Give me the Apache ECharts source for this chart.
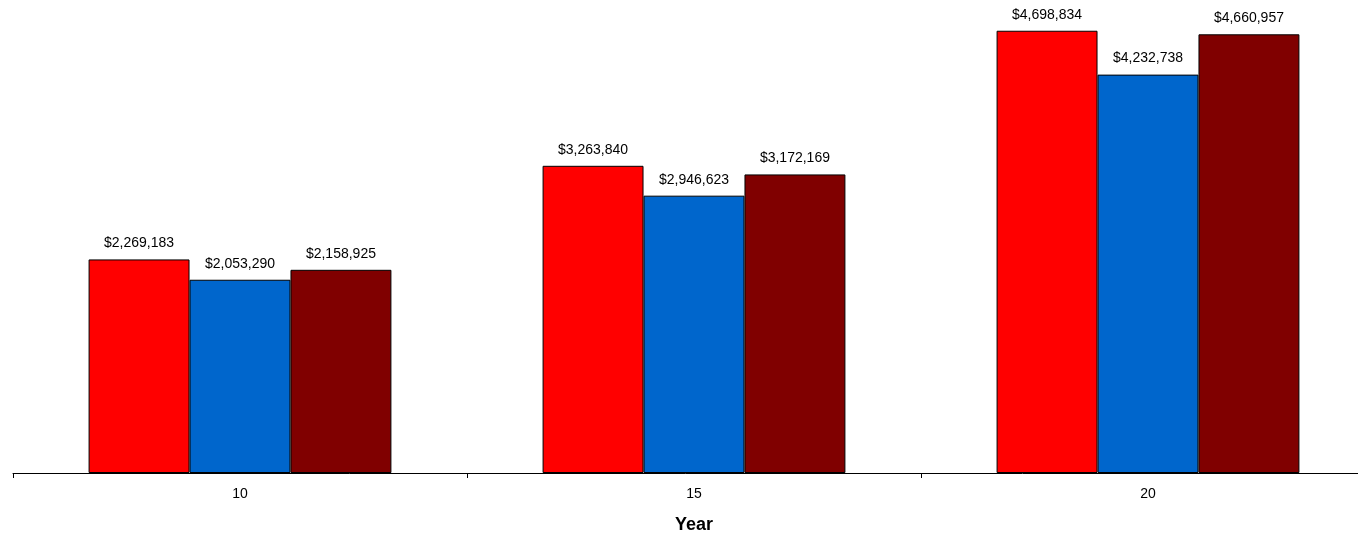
<!DOCTYPE html>
<html>
<head>
<meta charset="utf-8">
<script src="https://cdn.jsdelivr.net/npm/echarts@6/dist/echarts.min.js"></script>
<style>
  html, body { margin: 0; padding: 0; background: #fff; }
  #chart { width: 1358px; height: 535px; }
</style>
</head>
<body>
<div id="chart"></div>
<script>
// Years on the horizontal axis
const years = ['10', '15', '20'];
// Three series of accumulated values per year
const seriesA = [2269183, 3263840, 4698834];
const seriesB = [2053290, 2946623, 4232738];
const seriesC = [2158925, 3172169, 4660957];

const colors = ['#FF0000', '#0066CC', '#800000'];
const fontFamily = '"Liberation Sans", Arial, sans-serif';

function money(v) {
  return '$' + v.toLocaleString('en-US');
}

function barSeries(data, color) {
  return {
    type: 'bar',
    data: data,
    barGap: 0,
    barCategoryGap: '33.3%',
    itemStyle: { color: color, borderColor: '#000', borderWidth: 1 },
    label: {
      show: true,
      position: 'top',
      distance: 9,
      color: '#000',
      fontSize: 14,
      fontFamily: fontFamily,
      formatter: p => money(p.value)
    },
    emphasis: { disabled: true },
    animation: false
  };
}

const chart = echarts.init(document.getElementById('chart'), null, { renderer: 'canvas' });
chart.setOption({
  animation: false,
  grid: {
    left: 13, width: 1362, top: 2.4, bottom: 62,
    containLabel: false,
    outerBoundsMode: 'none'
  },
  xAxis: {
    type: 'category',
    data: years,
    name: 'Year',
    nameLocation: 'middle',
    nameGap: 43,
    nameTextStyle: { fontSize: 18, fontWeight: 'bold', color: '#000', fontFamily: fontFamily },
    axisLine: { lineStyle: { color: '#000', width: 1 } },
    axisTick: { show: true, length: 5, lineStyle: { color: '#000' } },
    axisLabel: { color: '#000', fontSize: 14, fontFamily: fontFamily, margin: 14 }
  },
  yAxis: {
    type: 'value',
    min: 0,
    max: 5000000,
    show: false,
    splitLine: { show: false }
  },
  series: [
    barSeries(seriesA, colors[0]),
    barSeries(seriesB, colors[1]),
    barSeries(seriesC, colors[2])
  ]
});
</script>
</body>
</html>
